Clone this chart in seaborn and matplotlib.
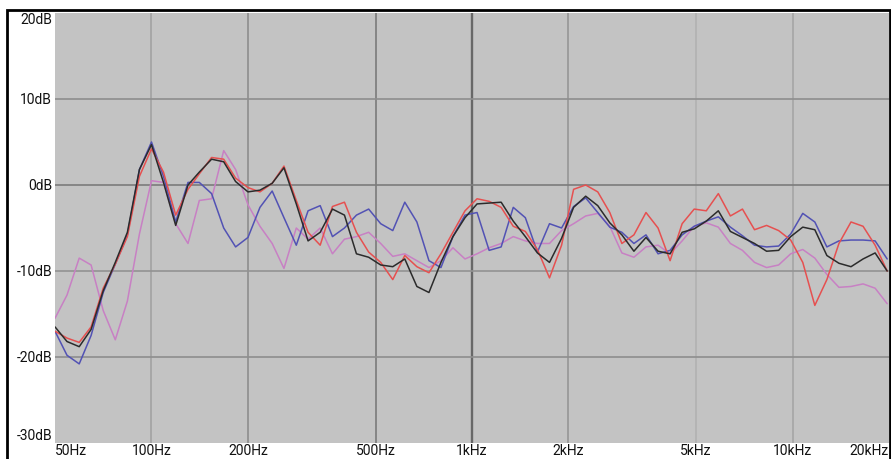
import pandas as pd
import matplotlib
matplotlib.use("Agg")
import matplotlib.pyplot as plt
import seaborn as sns
from matplotlib.patches import Rectangle

# frequency grid (Hz), about 1/8 octave apart
freqs = [50, 54.5, 59.5, 64.8, 70.7, 77.1, 84.1, 91.7, 100, 109,
         119, 130, 141, 154, 168, 183, 200, 218, 238, 259,
         283, 308, 336, 367, 400, 436, 476, 519, 566, 617,
         673, 734, 800, 872, 951, 1037, 1131, 1233, 1345, 1467,
         1600, 1745, 1903, 2075, 2263, 2468, 2691, 2935, 3200, 3490,
         3806, 4150, 4525, 4935, 5382, 5869, 6400, 6979, 7611, 8300,
         9051, 9870, 10764, 11738, 12800, 13958, 15222, 16600, 18102, 19740]

black = [-16.5, -18.2, -18.8, -16.8, -12.3, -9.0, -5.5, 1.8, 4.7, 0.3,
         -4.7, 0.0, 1.5, 3.0, 2.7, 0.4, -0.8, -0.6, 0.2, 2.0,
         -2.2, -6.5, -5.5, -2.8, -3.5, -8.0, -8.4, -9.3, -9.5, -8.6,
         -11.8, -12.5, -9.0, -6.0, -3.8, -2.2, -2.1, -2.0, -4.2, -6.0,
         -7.9, -9.0, -6.2, -2.6, -1.3, -2.4, -4.4, -5.8, -7.7, -6.1,
         -7.7, -8.0, -5.5, -5.1, -4.2, -3.0, -5.4, -6.1, -6.8, -7.7,
         -7.6, -6.0, -4.9, -5.2, -8.2, -9.1, -9.5, -8.6, -7.9, -10.0]

blue = [-17.0, -19.8, -20.8, -17.5, -12.5, -9.2, -5.8, 1.8, 5.0, 1.0,
        -4.3, 0.3, 0.3, -1.0, -5.0, -7.2, -6.1, -2.6, -0.7, -3.8,
        -7.0, -3.0, -2.4, -6.0, -5.0, -3.5, -2.8, -4.5, -5.3, -2.0,
        -4.3, -8.8, -9.6, -6.0, -3.5, -3.2, -7.6, -7.2, -2.6, -3.8,
        -7.8, -4.5, -5.0, -2.5, -1.5, -3.2, -4.9, -5.5, -6.8, -5.8,
        -8.0, -7.6, -5.8, -4.8, -4.2, -3.7, -4.9, -5.9, -7.0, -7.2,
        -7.1, -5.7, -3.3, -4.3, -7.2, -6.5, -6.4, -6.4, -6.5, -8.6]

red = [-17.0, -17.8, -18.3, -16.5, -12.0, -9.2, -6.0, 1.0, 4.2, 1.5,
       -3.5, -0.5, 1.3, 3.2, 3.0, 0.8, -0.3, -0.8, 0.2, 2.2,
       -1.8, -5.5, -7.0, -2.5, -2.0, -5.5, -7.8, -9.0, -11.0, -8.2,
       -9.5, -10.2, -8.0, -5.5, -3.0, -1.6, -1.9, -2.6, -4.8, -5.4,
       -7.5, -10.8, -7.0, -0.5, 0.0, -0.8, -3.2, -6.8, -5.8, -3.2,
       -5.0, -8.8, -4.5, -2.8, -3.0, -1.0, -3.6, -2.8, -5.2, -4.7,
       -5.3, -6.4, -9.0, -14.0, -11.0, -6.8, -4.3, -4.8, -7.0, -10.0]

violet = [-15.5, -12.8, -8.5, -9.3, -14.6, -18.0, -13.5, -5.7, 0.5, 0.3,
          -4.5, -6.8, -1.8, -1.6, 4.0, 1.8, -2.3, -4.8, -6.8, -9.7,
          -5.0, -6.3, -5.0, -8.0, -6.3, -6.0, -5.5, -6.8, -8.3, -8.0,
          -8.8, -9.6, -8.8, -7.3, -8.6, -8.0, -7.3, -6.8, -6.0, -6.5,
          -6.8, -6.8, -5.3, -4.5, -3.6, -3.3, -4.8, -7.9, -8.4, -7.2,
          -7.0, -8.0, -6.5, -4.8, -4.4, -4.9, -6.8, -7.6, -9.0, -9.6,
          -9.3, -8.0, -7.5, -8.5, -10.4, -11.9, -11.8, -11.5, -12.0, -13.8]

xticks = [50, 100, 200, 500, 1000, 2000, 5000, 10000, 20000]
xlabels = ["50Hz", "100Hz", "200Hz", "500Hz", "1kHz", "2kHz", "5kHz", "10kHz", "20kHz"]
yticks = [-30, -20, -10, 0, 10, 20]
ylabels = ["-30dB", "-20dB", "-10dB", "0dB", "10dB", "20dB"]

series = {"violet": violet, "blue": blue, "red": red, "black": black}
colors = {"violet": "#c880c4", "blue": "#5252b4", "red": "#e65050", "black": "#2b2b2b"}

rows = []
for name, vals in series.items():
    for f, v in zip(freqs, vals):
        rows.append({"freq": f, "db": v, "curve": name})
df = pd.DataFrame(rows)

sns.set_style("white")
plt.rcParams["font.family"] = ["Roboto", "DejaVu Sans"]

fig = plt.figure(figsize=(8.91, 4.59), dpi=100)
ax = fig.add_axes([55 / 891, 16 / 459, 834 / 891, 430 / 459])
ax.set_facecolor("#c3c3c3")

sns.lineplot(data=df, x="freq", y="db", hue="curve", palette=colors,
             hue_order=list(series.keys()), estimator=None, sort=True,
             linewidth=1.1, legend=False, ax=ax, zorder=3)

ax.set_xscale("log")
ax.set_xlim(50, 20000)
ax.set_ylim(-30, 20)

# grid lines, some drawn darker like the original
vgrid = {100: "#a2a2a2", 200: "#8e8e8e", 500: "#7a7a7a", 1000: "#686868",
         2000: "#969696", 5000: "#b2b2b2", 10000: "#a6a6a6"}
for f, c in vgrid.items():
    ax.axvline(f, color=c, lw=1.7 if f == 1000 else 1.2, zorder=1)
hgrid = {10: "#8e8e8e", 0: "#7c7c7c", -10: "#929292", -20: "#8e8e8e"}
for d, c in hgrid.items():
    ax.axhline(d, color=c, lw=1.2, zorder=1)

ax.set_xticks(xticks)
ax.set_xticklabels(xlabels)
ax.xaxis.set_minor_locator(matplotlib.ticker.NullLocator())
ax.set_yticks(yticks)
ax.set_yticklabels(ylabels)
ax.tick_params(axis="both", length=0, labelsize=10, colors="#111111")
ax.tick_params(axis="x", pad=1)
ax.tick_params(axis="y", pad=2)
xl = ax.get_xticklabels()
xl[0].set_ha("left")
xl[-1].set_ha("right")
yl = ax.get_yticklabels()
yl[0].set_va("bottom")
yl[-1].set_va("top")
ax.set_xlabel("")
ax.set_ylabel("")
for s in ax.spines.values():
    s.set_visible(False)

# outer black frame
fig.patches.append(Rectangle((7 / 891, -0.02), 883 / 891, 1.0 - 10 / 459 + 0.02,
                             transform=fig.transFigure, fill=False,
                             edgecolor="black", lw=2))

fig.savefig("out.png", dpi=100)
